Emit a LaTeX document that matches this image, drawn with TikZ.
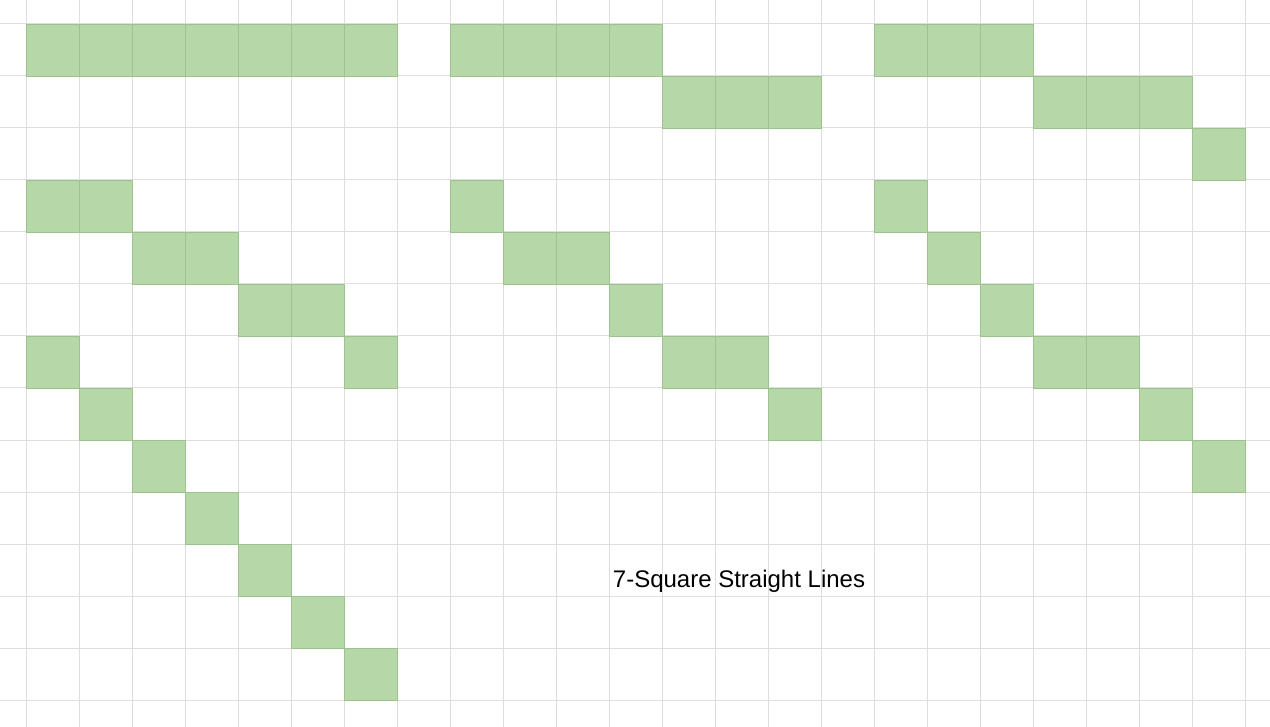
\documentclass[tikz,border=0pt]{standalone}
\usepackage{fontspec}
\setmainfont{Liberation Sans}
\definecolor{gridgray}{HTML}{DEDEDE}
\definecolor{cellgreen}{HTML}{B6D7A8}
\definecolor{celledge}{HTML}{9DC28E}
\tikzset{
  gridline/.style={gridgray, line width=1pt},
  cell/.style={fill=cellgreen, draw=celledge, line width=0.8pt},
}
\newcommand{\cellat}[2]{\path[cell] ({26+53*#1},{24+52*#2}) rectangle ++(53,52);}
\begin{document}
\begin{tikzpicture}[x=1pt,y=-1pt]
\useasboundingbox[fill=white] (0,0) rectangle (1270,727);
% grid
\foreach \k in {0,...,23} \draw[gridline] ({26+53*\k},0) -- ({26+53*\k},727);
\foreach \k in {0,...,13} \draw[gridline] (0,{24+52*\k}) -- (1270,{24+52*\k});
% panel 1
\foreach \c/\r in {0/0,1/0,2/0,3/0,4/0,5/0,6/0,
  0/3,1/3,2/4,3/4,4/5,5/5,6/6,
  0/6,1/7,2/8,3/9,4/10,5/11,6/12}{\cellat{\c}{\r}}
% panel 2
\foreach \c/\r in {8/0,9/0,10/0,11/0,12/1,13/1,14/1,
  8/3,9/4,10/4,11/5,12/6,13/6,14/7}{\cellat{\c}{\r}}
% panel 3
\foreach \c/\r in {16/0,17/0,18/0,19/1,20/1,21/1,22/2,
  16/3,17/4,18/5,19/6,20/6,21/7,22/8}{\cellat{\c}{\r}}
\node[anchor=base, font=\fontsize{24}{28}\selectfont, inner sep=0pt] (title) at (739,587) {7-Square Straight Lines};
\end{tikzpicture}
\end{document}
